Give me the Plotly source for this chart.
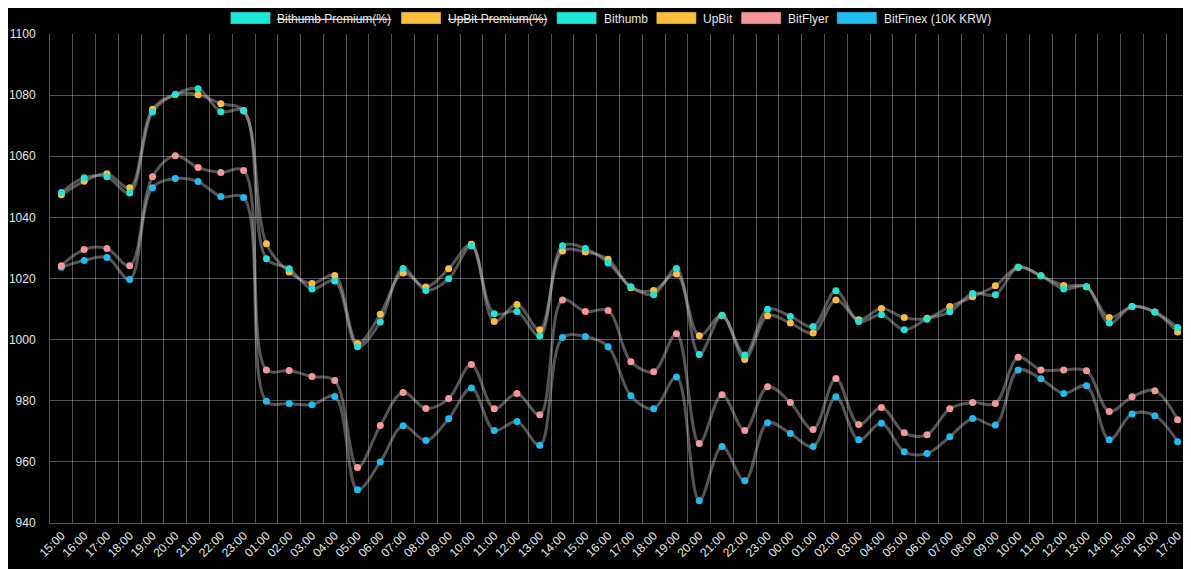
import plotly.graph_objects as go

labels = ["15:00","16:00","17:00","18:00","19:00","20:00","21:00","22:00","23:00",
          "01:00","02:00","03:00","04:00","05:00","06:00","07:00","08:00","09:00","10:00",
          "11:00","12:00","13:00","14:00","15:00","16:00","17:00","18:00","19:00","20:00",
          "21:00","22:00","23:00","00:00","01:00","02:00","03:00","04:00","05:00","06:00",
          "07:00","08:00","09:00","10:00","11:00","12:00","13:00","14:00","15:00","16:00","17:00"]

bithumb = [1048.1, 1053.0, 1053.3, 1048.0, 1074.5, 1080.2, 1082.1, 1074.6, 1074.8, 1026.5,
           1023.2, 1016.6, 1019.2, 997.7, 1005.8, 1023.3, 1016.1, 1019.9, 1030.6, 1008.5,
           1009.2, 1001.2, 1030.7, 1029.8, 1025.1, 1017.3, 1014.7, 1023.3, 995.1, 1007.9,
           995.0, 1009.9, 1007.6, 1004.3, 1016.0, 1005.9, 1008.1, 1003.2, 1006.7, 1009.1,
           1015.1, 1014.7, 1023.7, 1020.9, 1016.6, 1017.3, 1005.4, 1010.8, 1009.0, 1004.0]

upbit = [1047.4, 1051.8, 1054.3, 1049.7, 1075.4, 1080.2, 1080.1, 1077.2, 1075.0, 1031.4,
         1022.1, 1018.4, 1021.0, 998.7, 1008.3, 1021.8, 1017.2, 1023.2, 1031.2, 1005.9,
         1011.5, 1003.2, 1029.0, 1028.7, 1026.3, 1017.0, 1016.1, 1021.5, 1001.3, 1008.0,
         993.5, 1007.8, 1005.4, 1002.2, 1013.0, 1006.5, 1010.2, 1007.2, 1007.0, 1010.8,
         1014.0, 1017.6, 1023.7, 1020.9, 1017.7, 1017.3, 1007.2, 1010.8, 1009.0, 1002.5]

bitflyer = [1024.2, 1029.5, 1029.8, 1024.2, 1053.3, 1060.2, 1056.3, 1054.7, 1055.3, 990.1,
            989.9, 987.9, 986.6, 958.2, 971.9, 982.7, 977.5, 980.7, 991.9, 977.4,
            982.4, 975.4, 1013.0, 1009.2, 1009.5, 992.8, 989.5, 1001.9, 966.0, 982.0,
            970.3, 984.6, 979.4, 970.6, 987.3, 972.2, 977.8, 969.5, 968.9, 977.4,
            979.4, 979.1, 994.2, 990.1, 990.1, 989.8, 976.5, 981.3, 983.3, 973.8]

bitfinex = [1023.7, 1025.9, 1026.9, 1019.7, 1049.7, 1052.7, 1051.7, 1046.8, 1046.5, 979.8,
            979.1, 978.7, 981.4, 950.9, 960.0, 971.8, 967.0, 974.1, 984.2, 970.3,
            973.2, 965.4, 1000.7, 1001.0, 997.7, 981.6, 977.4, 987.8, 947.3, 965.0,
            953.8, 972.8, 969.3, 965.0, 981.3, 967.2, 972.6, 963.3, 962.7, 968.2,
            974.2, 972.1, 990.1, 987.2, 982.4, 984.9, 967.2, 975.7, 975.1, 966.6]

y_ticks = [940, 960, 980, 1000, 1020, 1040, 1060, 1080, 1100]

series = [
    ("Bithumb", bithumb, "#1ee6d5"),
    ("UpBit", upbit, "#fbbd3e"),
    ("BitFlyer", bitflyer, "#f3979a"),
    ("BitFinex (10K KRW)", bitfinex, "#1dbdf2"),
]

legend_items = [
    ("Bithumb Premium(%)", "#1ee6d5", True),
    ("UpBit Premium(%)", "#fbbd3e", True),
    ("Bithumb", "#1ee6d5", False),
    ("UpBit", "#fbbd3e", False),
    ("BitFlyer", "#f3979a", False),
    ("BitFinex (10K KRW)", "#1dbdf2", False),
]

x = list(range(len(labels)))
fig = go.Figure()
for name, vals, color in reversed(series):
    fig.add_trace(go.Scatter(
        x=x, y=vals, name=name, mode="lines+markers",
        line=dict(color="rgba(200,200,200,0.42)", width=3, shape="spline", smoothing=1.0),
        marker=dict(color=color, size=7, line=dict(width=0)),
        showlegend=False,
    ))

# the page body has an 8px margin; the figure is sized to fit the 1191x569 window
OFF = 8
W, H = 1191 - OFF, 569 - OFF
L, R, T, B = 48 - OFF, 1, 34 - OFF, 46
pw, ph = W - L - R, H - T - B

def px2x(p):
    return (p - OFF - L) / pw

def py2y(p):
    return (H - B - (p - OFF)) / ph

legend_x = [229, 400, 556, 656, 741, 837]
shapes = []
annotations = []
for (text, color, hidden), lx in zip(legend_items, legend_x):
    shapes.append(dict(type="rect", xref="paper", yref="paper",
                       x0=px2x(lx), x1=px2x(lx + 40), y0=py2y(24), y1=py2y(12),
                       fillcolor=color, line=dict(color="rgba(0,0,0,0.25)", width=1)))
    annotations.append(dict(xref="paper", yref="paper", x=px2x(lx + 45), y=py2y(18.5),
                            xanchor="left", yanchor="middle", showarrow=False,
                            text=("<s>%s</s>" % text) if hidden else text,
                            font=dict(size=12, color="#e6e6e6",
                                      family="Arial, Liberation Sans, Helvetica, sans-serif")))

grid = "rgba(255,255,255,0.32)"
fig.update_layout(
    width=W, height=H,
    margin=dict(l=L, r=R, t=T, b=B),
    paper_bgcolor="#000000", plot_bgcolor="#000000",
    font=dict(family="Arial, Liberation Sans, Helvetica, sans-serif", size=12, color="#e6e6e6"),
    showlegend=False,
    shapes=shapes, annotations=annotations,
    xaxis=dict(range=[-0.5, len(labels) - 0.5], tickmode="array", tickvals=x, ticktext=labels,
               tickangle=-45, showgrid=False, zeroline=False, ticks="",
               showline=True, linecolor=grid, linewidth=1,
               tickfont=dict(size=12, color="#e6e6e6"),
               minor=dict(tick0=-0.5, dtick=1, showgrid=True, gridcolor=grid, gridwidth=1, ticks="")),
    yaxis=dict(range=[y_ticks[0], y_ticks[-1]], tickmode="array", tickvals=y_ticks,
               showgrid=False, zeroline=False,
               showline=True, mirror=True, linecolor=grid, linewidth=1,
               ticks="", ticklabelstandoff=11,
               tickfont=dict(size=12, color="#e6e6e6")),
    # grid-only overlay axis: horizontal lines at every tick except the top edge
    yaxis2=dict(overlaying="y", range=[y_ticks[0], y_ticks[-1]], tickmode="array",
                tickvals=y_ticks[:-1], showticklabels=False, ticks="",
                showgrid=True, gridcolor=grid, gridwidth=1, zeroline=False, showline=False),
)
# invisible trace so the overlay axis is drawn
fig.add_trace(go.Scatter(x=[x[0]], y=[y_ticks[0]], yaxis="y2", mode="markers",
                         marker=dict(opacity=0), hoverinfo="skip", showlegend=False))

fig.write_html("out.html")
